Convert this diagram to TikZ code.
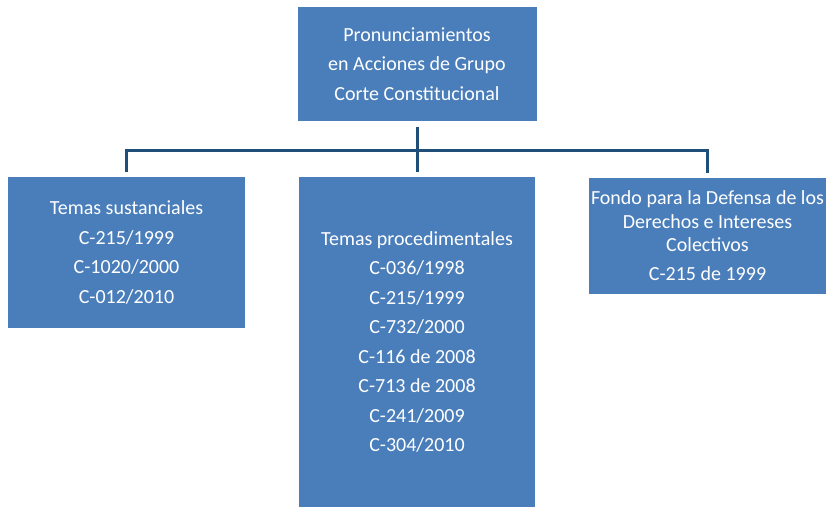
\documentclass[tikz,border=0pt]{standalone}
\usepackage{fontspec}
\setmainfont{Carlito}
\usepackage{tikz}
\definecolor{boxblue}{RGB}{74,126,187}
\definecolor{lineblue}{RGB}{31,78,121}
\tikzset{>=latex}

\begin{document}
\begin{tikzpicture}[x=1pt,y=-1pt]
        % P = pronunciamientos, L/M/R = left, middle, right branch
        \tikzstyle{every node}=[rectangle, fill=boxblue, text=white, align=center, inner sep=0pt, outer sep=5.5pt, font=\fontsize{20}{29.5}\selectfont]
        \tikzstyle{conn}=[draw=lineblue, line width=3pt]
        \useasboundingbox (0,0) rectangle (826,508);
        \node (P) at (417,64) [minimum width=239pt, minimum height=114pt] {Pronunciamientos\\en Acciones de Grupo\\Corte Constitucional};
        \node (L) at (126.5,252.5) [minimum width=237pt, minimum height=151pt] {Temas sustanciales\\C-215/1999\\C-1020/2000\\C-012/2010};
        \node (M) at (417,342) [minimum width=236pt, minimum height=330pt] {Temas procedimentales\\C-036/1998\\C-215/1999\\C-732/2000\\C-116 de 2008\\C-713 de 2008\\C-241/2009\\C-304/2010};
        \node (R) at (707.5,236) [minimum width=237pt, minimum height=116pt, font=\fontsize{20}{23.5}\selectfont] {Fondo para la Defensa de los\\Derechos e Intereses\\Colectivos\\[5.5pt]C-215 de 1999};
        \coordinate (bar) at (417,150);
        \draw[conn] (P) -- (M);
        \draw[conn] (L) -- (L |- bar) -- (R |- bar) -- (R);

\end{tikzpicture}
\end{document}
